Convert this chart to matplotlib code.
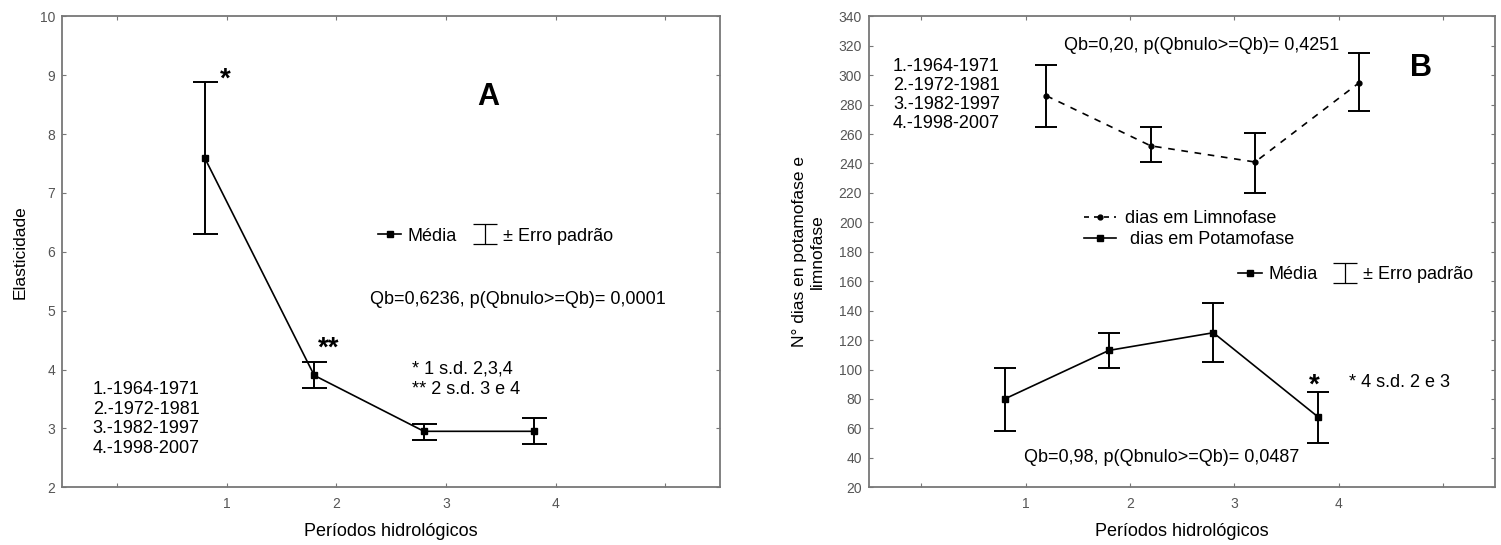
import matplotlib
matplotlib.use("Agg")
import matplotlib.pyplot as plt
from matplotlib.lines import Line2D
from matplotlib.path import Path
import numpy as np

plt.rcParams['font.family'] = ['Liberation Sans', 'DejaVu Sans']

# periodos hidrologicos (pontos deslocados em relacao ao tick)
periodos = np.array([1, 2, 3, 4])
periodos_txt = "1.-1964-1971\n2.-1972-1981\n3.-1982-1997\n4.-1998-2007"

# painel A - elasticidade
elast_media = [7.6, 3.9, 2.95, 2.95]
elast_inf = [6.3, 3.68, 2.8, 2.73]
elast_sup = [8.88, 4.12, 3.07, 3.17]

# painel B - dias em limnofase / potamofase
limno_media = [286, 252, 241, 295]
limno_inf = [265, 241, 220, 276]
limno_sup = [307, 265, 261, 315]
potamo_media = [80, 113, 125, 68]
potamo_inf = [58, 101, 105, 50]
potamo_sup = [101, 125, 145, 85]

tick_col = '#555555'
spine_col = '#777777'
fs = 13

fig = plt.figure(figsize=(15.01, 5.45), dpi=100)
axA = fig.add_axes([0.0413, 0.106, 0.4384, 0.864])
axB = fig.add_axes([0.579, 0.106, 0.417, 0.864])

# simbolo do erro padrao (I com barras)
ibeam = Path([(-0.5, 0.42), (0.5, 0.42), (0, 0.42), (0, -0.42), (-0.5, -0.42), (0.5, -0.42)],
             [Path.MOVETO, Path.LINETO, Path.MOVETO, Path.LINETO, Path.MOVETO, Path.LINETO])


def estilo(ax, ylim, yticks):
    ax.set_xlim(-0.5, 5.5)
    ax.set_ylim(*ylim)
    ax.set_xticks([0, 1, 2, 3, 4, 5])
    ax.set_xticklabels(['', '1', '2', '3', '4', ''])
    ax.set_yticks(yticks)
    ax.tick_params(direction='in', length=3, width=0.8, colors=spine_col,
                   labelcolor=tick_col, labelsize=10, top=True, right=True)
    ax.tick_params(axis='x', pad=7)
    ax.tick_params(axis='y', pad=5)
    for s in ax.spines.values():
        s.set_color(spine_col)
        s.set_linewidth(1.3)
    ax.set_xlabel('Períodos hidrológicos', fontsize=fs, labelpad=9)


def barras(ax, x, media, inf, sup, cap, **kw):
    media = np.array(media)
    err = [media - np.array(inf), np.array(sup) - media]
    return ax.errorbar(x, media, yerr=err, color='black', capsize=cap,
                       elinewidth=1.4, capthick=1.4, lw=1.2, **kw)


def legenda_media(ax, x, y):
    h_media = Line2D([], [], color='black', marker='s', markersize=4.5, lw=1.2)
    h_erro = Line2D([], [], ls='none', marker=ibeam, markersize=17,
                    markeredgecolor='black', markeredgewidth=0.9,
                    markerfacecolor='none')
    return ax.legend([h_media, h_erro], ['Média', '± Erro padrão'], ncol=2,
                     frameon=False, fontsize=fs, loc='center left',
                     bbox_to_anchor=(x, y), borderaxespad=0, borderpad=0,
                     handlelength=1.3, handletextpad=0.35, columnspacing=0.9)


# ---------------- A ----------------
estilo(axA, (2, 10), np.arange(2, 11, 1))
axA.set_ylabel('Elasticidade', fontsize=12.5, labelpad=9)
barras(axA, periodos - 0.2, elast_media, elast_inf, elast_sup, 9,
       marker='s', markersize=4.5)

axA.text(0.99, 8.80, '*', fontsize=20, fontweight='bold', ha='center')
axA.text(1.93, 4.23, '**', fontsize=20, fontweight='bold', ha='center')
axA.text(3.39, 8.63, 'A', fontsize=22, fontweight='bold', ha='center', va='center')
axA.text(2.31, 5.19, 'Qb=0,6236, p(Qbnulo>=Qb)= 0,0001', fontsize=fs, va='center')
axA.text(2.69, 3.83, '* 1 s.d. 2,3,4\n** 2 s.d. 3 e 4', fontsize=fs,
         va='center', linespacing=1.25)
axA.text(-0.22, 3.16, periodos_txt, fontsize=fs, va='center', linespacing=1.2)
legenda_media(axA, 0.48, 0.533)

# ---------------- B ----------------
estilo(axB, (20, 340), np.arange(20, 341, 20))
axB.set_ylabel('N° dias en potamofase e\nlimnofase', fontsize=12.5, labelpad=10)
barras(axB, periodos + 0.2, limno_media, limno_inf, limno_sup, 8,
       marker='o', markersize=3.5, ls=(0, (4, 4)))
barras(axB, periodos - 0.2, potamo_media, potamo_inf, potamo_sup, 8,
       marker='s', markersize=4.5)

axB.text(2.69, 320, 'Qb=0,20, p(Qbnulo>=Qb)= 0,4251', fontsize=fs,
         ha='center', va='center')
axB.text(-0.27, 286.3, periodos_txt, fontsize=fs, va='center', linespacing=1.15)
axB.text(4.79, 304.7, 'B', fontsize=22, fontweight='bold', ha='center', va='center')
axB.text(3.77, 84.3, '*', fontsize=20, fontweight='bold', ha='center')
axB.text(4.10, 91, '* 4 s.d. 2 e 3', fontsize=fs, va='center')
axB.text(2.30, 40, 'Qb=0,98, p(Qbnulo>=Qb)= 0,0487', fontsize=fs,
         ha='center', va='center')

h_limno = Line2D([], [], color='black', marker='o', markersize=3.5, lw=1.2,
                 ls=(0, (3, 3)))
h_potamo = Line2D([], [], color='black', marker='s', markersize=4.5, lw=1.2)
leg1 = axB.legend([h_limno, h_potamo], ['dias em Limnofase', ' dias em Potamofase'],
                  frameon=False, fontsize=fs, loc='center left',
                  bbox_to_anchor=(0.343, 0.548), borderaxespad=0, borderpad=0,
                  handlelength=1.8, handletextpad=0.5, labelspacing=0.25)
axB.add_artist(leg1)
legenda_media(axB, 0.59, 0.452)

fig.savefig('out.png', dpi=100)
